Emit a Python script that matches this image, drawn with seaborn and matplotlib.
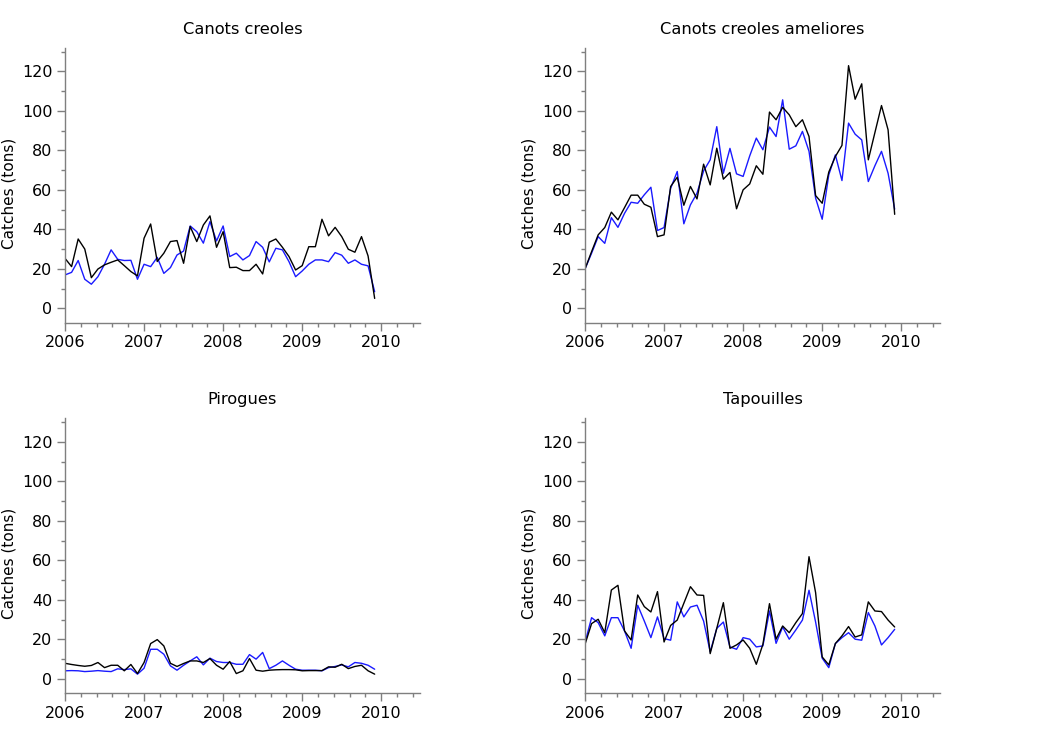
import numpy as np
import pandas as pd
import matplotlib
matplotlib.use("Agg")
import matplotlib.pyplot as plt
import seaborn as sns
from matplotlib.ticker import MultipleLocator

sns.set_theme(style="ticks")
plt.rcParams['font.family'] = ['DejaVu Sans']

titles = ["Canots creoles", "Canots creoles ameliores", "Pirogues", "Tapouilles"]
year_ticks = [2006, 2007, 2008, 2009, 2010]

cc_black = [25.3, 21.1, 35.1, 30.0, 15.5, 19.9, 22.0, 23.3, 24.5, 21.6, 18.6, 16.4,
            35.5, 42.7, 23.7, 27.9, 33.8, 34.3, 22.8, 41.4, 33.8, 42.2, 46.8, 30.9,
            38.8, 20.6, 20.8, 19.1, 19.1, 22.3, 17.4, 33.5, 35.1, 30.9, 26.2, 19.4,
            21.6, 31.2, 31.2, 45.1, 36.7, 41.0, 36.3, 29.9, 28.4, 36.3, 26.5, 5.0]
cc_blue = [16.9, 18.2, 24.2, 14.7, 12.2, 16.0, 22.3, 29.6, 24.8, 24.2, 24.3, 14.7,
           22.3, 21.1, 25.8, 17.7, 20.6, 27.0, 29.0, 41.7, 38.8, 33.0, 43.9, 34.1,
           41.7, 26.2, 27.9, 24.5, 26.7, 33.8, 30.9, 23.5, 30.4, 29.6, 23.6, 16.0,
           18.9, 22.3, 24.5, 24.5, 23.6, 28.2, 26.9, 22.8, 24.5, 22.3, 21.5, 8.4]

cca_black = [19.9, 28.7, 37.2, 40.9, 48.7, 44.8, 51.0, 57.3, 57.3, 52.7, 51.2, 36.3,
             37.2, 61.7, 66.4, 52.2, 61.7, 55.4, 73.0, 62.5, 81.1, 65.4, 68.8, 50.4,
             60.0, 63.0, 72.2, 67.9, 99.4, 95.5, 101.8, 98.0, 92.0, 95.5, 87.0, 57.1,
             53.2, 69.0, 76.9, 82.5, 122.9, 105.9, 113.7, 75.2, 89.0, 102.7, 90.4, 47.6]
cca_blue = [19.9, 27.9, 36.3, 32.9, 45.9, 41.0, 48.1, 53.7, 53.2, 57.5, 61.3, 39.4,
            40.9, 60.8, 69.3, 42.8, 52.4, 58.3, 69.6, 75.2, 92.0, 68.4, 81.0, 68.1,
            66.8, 77.2, 86.2, 80.3, 91.8, 87.0, 105.6, 80.6, 82.3, 89.6, 79.5, 55.8,
            45.1, 67.6, 77.7, 64.7, 93.8, 88.2, 85.3, 64.2, 72.2, 79.5, 68.4, 50.2]

pir_black = [7.9, 7.3, 6.8, 6.4, 6.8, 8.3, 5.7, 6.9, 6.9, 4.1, 7.3, 2.7,
             8.3, 17.9, 19.9, 16.7, 7.9, 6.3, 7.8, 9.1, 9.1, 8.3, 10.3, 6.9,
             4.9, 8.8, 2.7, 4.1, 10.3, 4.4, 3.9, 4.4, 4.6, 4.7, 4.7, 4.6,
             4.1, 4.2, 4.2, 4.2, 6.1, 5.9, 7.4, 5.2, 6.3, 6.9, 4.1, 2.4]
pir_blue = [4.1, 4.2, 4.1, 3.7, 3.9, 4.2, 3.9, 3.7, 5.1, 4.7, 5.1, 2.4,
            5.4, 15.0, 15.0, 12.5, 6.6, 4.4, 6.9, 9.1, 11.2, 7.1, 10.5, 8.8,
            8.3, 8.3, 7.4, 7.4, 12.3, 10.0, 13.4, 5.2, 6.9, 9.1, 6.9, 4.9,
            4.4, 4.4, 4.4, 4.1, 5.7, 6.3, 7.1, 6.1, 8.3, 7.9, 6.9, 4.9]

tap_black = [17.5, 28.0, 30.2, 23.4, 45.0, 47.4, 24.3, 19.7, 42.5, 36.6, 33.9, 44.2,
             18.7, 27.1, 29.8, 38.3, 46.7, 42.5, 42.3, 12.8, 25.6, 38.6, 15.5, 17.2,
             19.7, 15.5, 7.4, 17.5, 38.1, 20.1, 26.8, 23.4, 28.5, 33.1, 61.9, 43.7,
             11.1, 7.1, 17.9, 21.8, 26.5, 21.2, 22.3, 39.0, 34.4, 34.1, 29.8, 26.3]
tap_blue = [18.4, 31.0, 28.5, 21.8, 31.0, 31.0, 24.3, 15.5, 37.3, 29.3, 20.9, 31.4,
            20.4, 19.6, 39.0, 31.4, 36.4, 37.3, 29.3, 13.7, 25.6, 28.8, 16.2, 15.0,
            20.9, 20.1, 16.2, 16.7, 34.4, 18.0, 26.3, 20.1, 24.8, 29.8, 44.9, 28.8,
            10.5, 5.7, 17.9, 20.9, 23.4, 20.1, 19.6, 33.6, 26.8, 17.2, 20.9, 25.1]

series = [(cc_black, cc_blue), (cca_black, cca_blue), (pir_black, pir_blue), (tap_black, tap_blue)]

months = np.arange(48)
time = 2006 + months / 12.0

rows = []
for t, (bk, bl) in zip(titles, series):
    for x, a, b in zip(time, bk, bl):
        rows.append({"panel": t, "time": x, "series": "observed", "value": a})
        rows.append({"panel": t, "time": x, "series": "model", "value": b})
df = pd.DataFrame(rows)

fig = plt.figure(figsize=(10.4, 7.4), dpi=100)
W, H = 1040, 740
positions = [(65, 47.7), (585, 47.7), (65, 418.3), (585, 418.3)]
aw, ah = 355, 275

palette = {"observed": "#000000", "model": "#1a1aff"}
spine_col = "#7f7f7f"

for t, (px, py) in zip(titles, positions):
    ax = fig.add_axes([px / W, 1 - (py + ah) / H, aw / W, ah / H])
    sub = df[df.panel == t]
    sns.lineplot(data=sub, x="time", y="value", hue="series", palette=palette,
                 hue_order=["model", "observed"], linewidth=1.0, ax=ax,
                 legend=False, estimator=None)
    ax.set_xlim(2006, 2010.49)
    ax.set_ylim(-7.3, 132)
    ax.set_xticks(year_ticks)
    ax.set_xticklabels([str(y) for y in year_ticks])
    ax.xaxis.set_minor_locator(MultipleLocator(0.2))
    ax.set_yticks(np.arange(0, 121, 20))
    ax.yaxis.set_minor_locator(MultipleLocator(10))
    for s in ["top", "right"]:
        ax.spines[s].set_visible(False)
    for s in ["left", "bottom"]:
        ax.spines[s].set_color(spine_col)
        ax.spines[s].set_linewidth(1.0)
    ax.tick_params(axis="both", which="major", length=6, width=1, color=spine_col,
                   labelsize=11.5, labelcolor="black", pad=3)
    ax.tick_params(axis="both", which="minor", length=3, width=1, color=spine_col)
    ax.set_xlabel("")
    ax.set_ylabel("Catches (tons)", fontsize=11, labelpad=4, color="black")
    ax.yaxis.label.set_y(0.472)
    ax.set_title(t, fontsize=11.7, pad=10, color="black")

fig.savefig("out.png", dpi=100)
